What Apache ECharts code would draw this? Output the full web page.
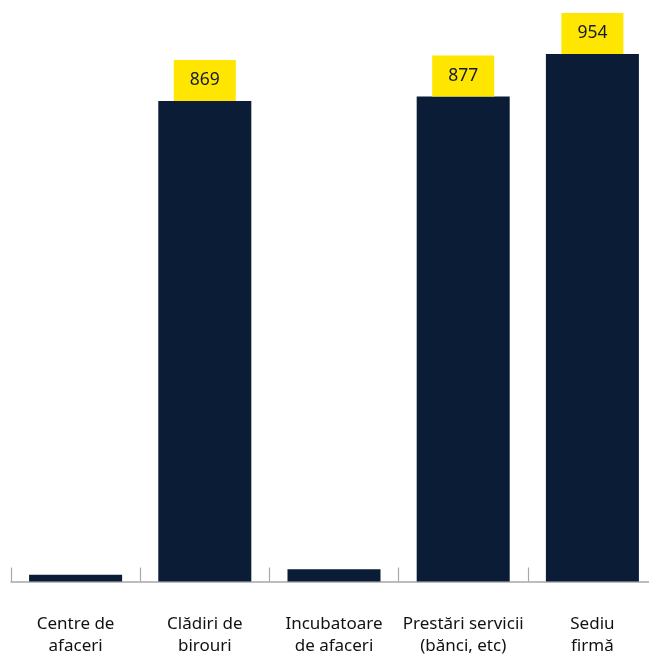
<!DOCTYPE html>
<html><head><meta charset="utf-8">
<script src="https://cdn.jsdelivr.net/npm/echarts@6/dist/echarts.min.js"></script>
<style>html,body{margin:0;padding:0;background:#fff}#c{width:649px;height:654px}</style>
</head><body><div id="c"></div>
<script>
const categories = ["Centre de\nafaceri", "Clădiri de\nbirouri", "Incubatoare\nde afaceri", "Prestări servicii\n(bănci, etc)", "Sediu\nfirmă"];
const values = [12, 869, 22, 877, 954];
const labelledMin = 100;

const chart = echarts.init(document.getElementById('c'));
chart.setOption({
  animation: false,
  grid: {left: 11, width: 646, top: 28.6, height: 552.9, outerBoundsMode: 'none', containLabel: false},
  xAxis: {
    type: 'category', data: categories,
    axisLine: {lineStyle: {color: '#a8a8a8', width: 1.5}},
    axisTick: {show: true, inside: true, length: 14, lineStyle: {color: '#a8a8a8', width: 1.2}},
    axisLabel: {fontFamily: 'Noto Sans', fontSize: 17, color: '#111', margin: 32, lineHeight: 22, interval: 0}
  },
  yAxis: {type: 'value', min: 0, max: 1000, show: false, splitLine: {show: false}},
  series: [{
    type: 'bar', barWidth: '72%',
    itemStyle: {color: '#0a1c36'},
    data: values.map(v => ({
      value: v,
      label: {
        show: v >= labelledMin, position: 'top', distance: 0,
        backgroundColor: '#ffe600', color: '#141c2e',
        fontFamily: 'Noto Sans', fontSize: 17.5,
        padding: [11, 16, 12, 16]
      }
    }))
  }]
});
</script></body></html>
